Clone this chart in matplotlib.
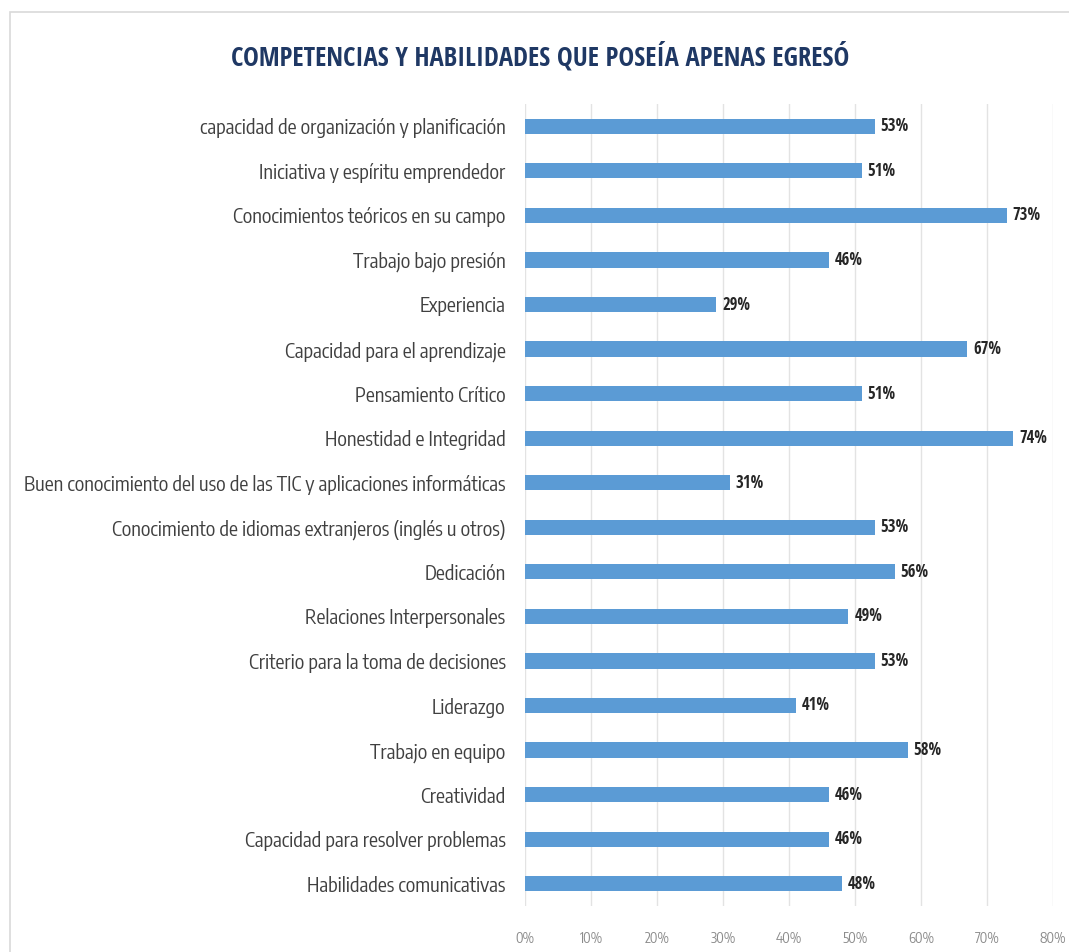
import matplotlib
matplotlib.use("Agg")
import matplotlib.pyplot as plt
from matplotlib.patches import Rectangle

categories = [
    "capacidad de organización y planificación",
    "Iniciativa y espíritu emprendedor",
    "Conocimientos teóricos en su campo",
    "Trabajo bajo presión",
    "Experiencia",
    "Capacidad para el aprendizaje",
    "Pensamiento Crítico",
    "Honestidad e Integridad",
    "Buen conocimiento del uso de las TIC y aplicaciones informáticas",
    "Conocimiento de idiomas extranjeros (inglés u otros)",
    "Dedicación",
    "Relaciones Interpersonales",
    "Criterio para la toma de decisiones",
    "Liderazgo",
    "Trabajo en equipo",
    "Creatividad",
    "Capacidad para resolver problemas",
    "Habilidades comunicativas",
]
values = [53, 51, 73, 46, 29, 67, 51, 74, 31, 53, 56, 49, 53, 41, 58, 46, 46, 48]
xticks = [0, 10, 20, 30, 40, 50, 60, 70, 80]
xtick_labels = [f"{t}%" for t in xticks]
title = "COMPETENCIAS Y HABILIDADES QUE POSEÍA APENAS EGRESÓ"

LABEL_FONT = ["Encode Sans Condensed", "DejaVu Sans"]
BOLD_FONT = ["Open Sans Condensed", "Fira Sans Condensed", "DejaVu Sans"]

fig = plt.figure(figsize=(10.69, 9.52), dpi=100)
W, H = 1069, 952
# frame
fig.patches.append(Rectangle((10 / W, -0.01), 1.0, 1 - 12 / H + 0.01, transform=fig.transFigure,
                             fill=False, edgecolor="#d9d9d9", linewidth=1.2))

left, right = 525 / W, 1053 / W
top, bottom = 1 - 104 / H, 1 - 906 / H
ax = fig.add_axes([left, bottom, right - left, top - bottom])

y = list(range(len(categories)))
ax.barh(y, values, height=0.34, color="#5B9BD5", zorder=3)
ax.set_ylim(len(categories) - 0.5, -0.5)
ax.set_xlim(0, 80)
ax.set_yticks(y)
ax.set_yticklabels(categories, fontsize=14.3, color="#404040", family=LABEL_FONT)
ax.set_xticks(xticks)
ax.set_xticklabels(xtick_labels, fontsize=10, color="#8c8c8c", family=LABEL_FONT)
ax.tick_params(axis="y", length=0, pad=14)
ax.tick_params(axis="x", length=0, pad=19)
ax.grid(axis="x", color="#e3e3e3", linewidth=1, zorder=0)
for s in ax.spines.values():
    s.set_visible(False)

for yi, v in zip(y, values):
    ax.text(v + 0.9, yi, f"{v}%", va="center", ha="left", fontsize=12,
            fontweight="bold", color="#262626", family=BOLD_FONT)

fig.text(540 / W, 1 - 57 / H, title, ha="center", va="center", fontsize=19.2,
         fontweight="bold", color="#1F3864", family=BOLD_FONT)

fig.savefig("out.png", dpi=100)
